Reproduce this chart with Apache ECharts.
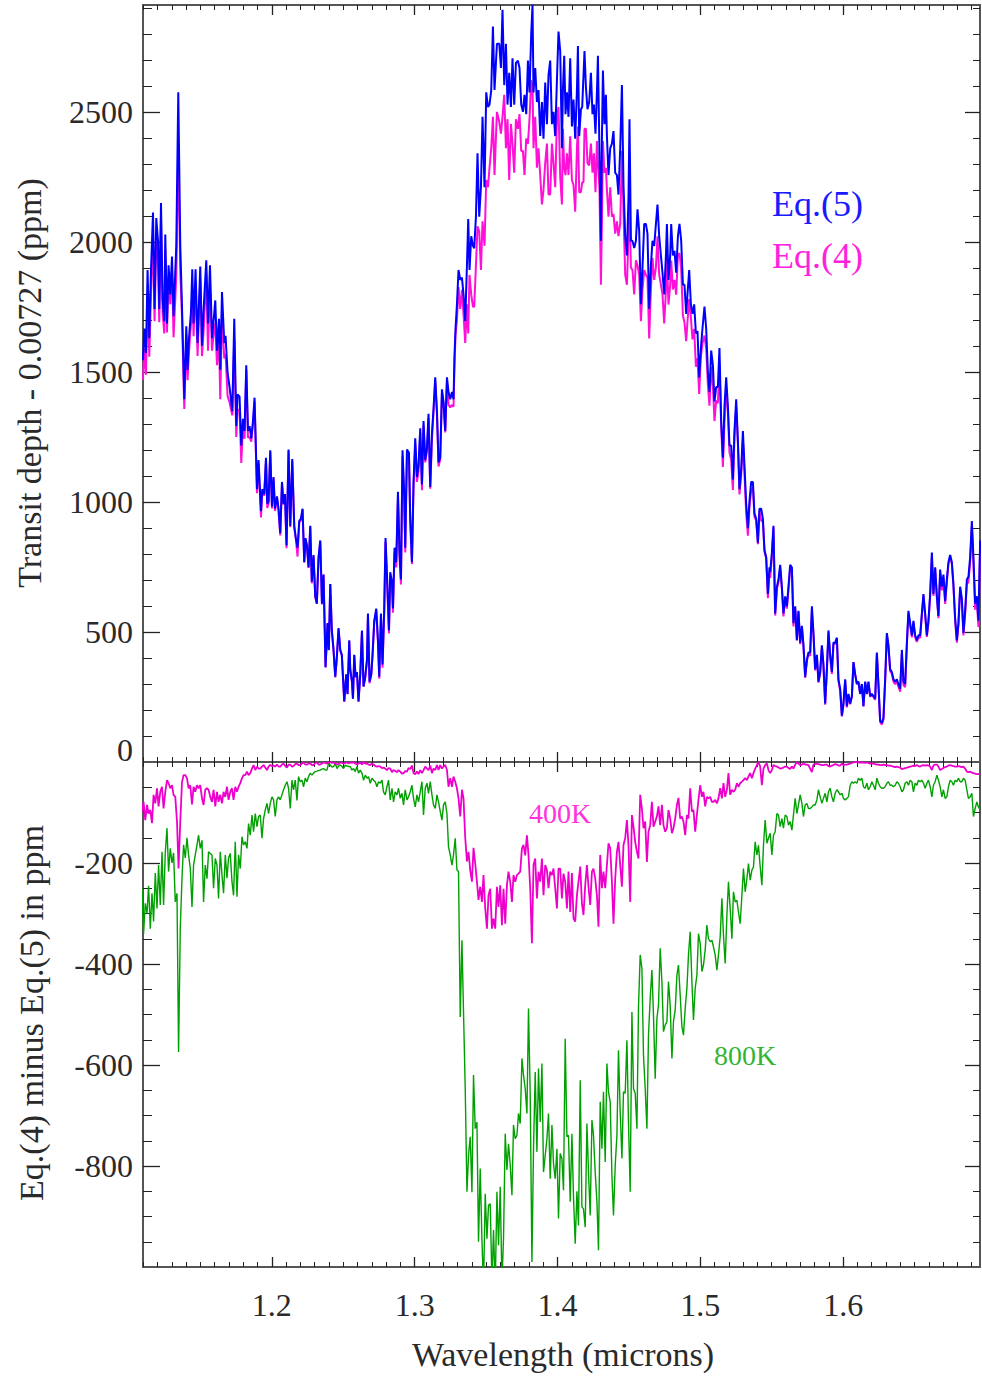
<!DOCTYPE html>
<html><head><meta charset="utf-8">
<script src="https://cdn.jsdelivr.net/npm/echarts@6/dist/echarts.min.js"></script>
<style>html,body{margin:0;padding:0;background:#fff}#c{width:982px;height:1377px}</style>
</head><body><div id="c"></div>
<script>
// ---------- DATA ----------
// Top panel: wavelength (microns) shared by Eq.(5) and Eq.(4)
const wlTop = [
1.1098,1.1107,1.1119,1.1130,1.1142,1.1154,1.1168,1.1179,1.1191,1.1203,1.1212,1.1224,1.1235,1.1247,1.1254,1.1266,1.1277,1.1289,1.1301,1.1312,
1.1331,1.1345,1.1359,1.1371,1.1387,1.1401,1.1410,1.1420,1.1434,1.1443,1.1452,1.1466,1.1480,1.1499,1.1511,1.1522,1.1541,1.1553,1.1567,1.1581,
1.1592,1.1604,1.1616,1.1630,1.1639,1.1651,1.1667,1.1676,1.1690,1.1704,1.1723,1.1737,1.1751,1.1760,1.1774,1.1786,1.1798,1.1809,1.1821,1.1833,
1.1844,1.1856,1.1868,1.1879,1.1896,1.1907,1.1924,1.1933,1.1947,1.1959,1.1968,1.1977,1.1989,1.2001,1.2012,1.2022,1.2036,1.2047,1.2059,1.2071,
1.2082,1.2092,1.2103,1.2117,1.2129,1.2143,1.2157,1.2168,1.2180,1.2192,1.2204,1.2215,1.2227,1.2236,1.2246,1.2257,1.2269,1.2280,1.2292,1.2304,
1.2315,1.2327,1.2339,1.2351,1.2362,1.2376,1.2390,1.2399,1.2409,1.2420,1.2432,1.2444,1.2455,1.2467,1.2479,1.2490,1.2507,1.2521,1.2530,1.2542,
1.2549,1.2561,1.2568,1.2577,1.2586,1.2596,1.2607,1.2619,1.2631,1.2642,1.2654,1.2666,1.2673,1.2684,1.2696,1.2705,1.2717,1.2731,1.2743,1.2752,
1.2764,1.2775,1.2787,1.2796,1.2808,1.2820,1.2829,1.2841,1.2848,1.2859,1.2871,1.2883,1.2894,1.2904,1.2915,1.2927,1.2934,1.2946,1.2960,1.2969,
1.2981,1.2992,1.3004,1.3016,1.3027,1.3039,1.3051,1.3062,1.3074,1.3086,1.3097,1.3109,1.3121,1.3132,1.3144,1.3156,1.3167,1.3179,1.3191,1.3202,
1.3214,1.3226,1.3237,1.3249,1.3261,1.3272,1.3279,1.3286,1.3296,1.3307,1.3319,1.3331,1.3342,1.3354,1.3366,1.3375,1.3384,1.3396,1.3408,1.3417,
1.3429,1.3440,1.3452,1.3464,1.3475,1.3489,1.3501,1.3513,1.3524,1.3536,1.3548,1.3559,1.3576,1.3592,1.3604,1.3615,1.3627,1.3639,1.3650,1.3662,
1.3674,1.3685,1.3697,1.3709,1.3723,1.3734,1.3746,1.3758,1.3769,1.3781,1.3793,1.3804,1.3816,1.3825,1.3832,1.3844,1.3856,1.3867,1.3879,1.3891,
1.3902,1.3914,1.3926,1.3937,1.3949,1.3961,1.3972,1.3984,1.3996,1.4007,1.4019,
1.4031,1.4038,1.4047,1.4056,1.4066,1.4077,1.4089,1.4101,1.4112,1.4124,1.4136,1.4143,1.4152,1.4164,1.4173,1.4182,1.4189,1.4199,1.4210,1.4222,
1.4234,1.4245,1.4255,1.4266,1.4276,1.4283,1.4294,1.4304,1.4311,1.4318,1.4329,1.4339,1.4346,1.4357,1.4369,1.4381,1.4392,1.4404,1.4416,1.4427,
1.4439,1.4451,1.4462,1.4474,1.4486,1.4497,1.4504,1.4514,1.4525,1.4537,1.4549,1.4560,1.4572,1.4584,1.4595,1.4607,1.4619,1.4630,1.4642,1.4654,
1.4665,1.4677,1.4689,1.4700,1.4712,1.4724,1.4735,1.4747,1.4759,1.4766,1.4777,1.4789,1.4796,1.4808,1.4819,1.4831,1.4843,1.4854,1.4866,1.4878,
1.4889,1.4901,1.4910,1.4922,1.4934,1.4945,1.4957,1.4969,1.4980,1.4992,1.5004,1.5015,1.5029,1.5041,1.5053,1.5064,1.5076,1.5088,1.5099,1.5111,
1.5123,1.5134,1.5146,1.5158,1.5169,1.5181,1.5193,1.5204,1.5216,1.5228,1.5239,1.5251,1.5263,1.5274,1.5286,1.5298,1.5309,1.5321,1.5333,1.5344,
1.5356,1.5368,1.5379,1.5391,1.5403,1.5414,1.5426,1.5438,1.5449,1.5461,1.5473,1.5484,
1.5489,1.5501,1.5512,1.5524,1.5536,1.5547,1.5559,1.5571,1.5582,1.5594,1.5606,1.5617,1.5629,1.5641,1.5652,1.5664,1.5676,1.5687,1.5699,1.5711,
1.5722,1.5734,1.5746,1.5757,1.5769,1.5781,1.5792,1.5804,1.5816,1.5827,1.5839,1.5851,1.5862,1.5874,1.5886,1.5897,1.5909,1.5921,1.5932,1.5944,
1.5956,1.5967,1.5979,1.5991,1.6002,1.6014,1.6026,1.6037,1.6049,1.6061,1.6072,1.6084,1.6096,1.6107,1.6119,1.6131,1.6142,1.6154,1.6166,1.6177,
1.6189,1.6201,1.6212,1.6224,1.6236,1.6247,1.6259,1.6271,1.6282,1.6294,1.6306,1.6317,1.6329,1.6341,1.6352,1.6364,1.6376,1.6387,1.6399,1.6411,
1.6422,1.6434,1.6446,1.6457,1.6469,1.6481,1.6492,1.6504,1.6516,1.6527,1.6539,1.6551,1.6562,1.6574,1.6586,1.6597,1.6609,1.6621,1.6632,1.6644,
1.6656,1.6667,1.6679,1.6691,1.6702,1.6714,1.6726,1.6737,1.6749,1.6761,1.6772,1.6784,1.6796,1.6807,1.6819,1.6831,1.6842,1.6854,1.6866,1.6877,
1.6889,1.6901,1.6912,1.6924,1.6936,1.6947,1.6959
];
// Transit depth - 0.00727 (ppm), Eq.(5)
const eq5 = [
1545,1667,1573,1892,1630,1892,2113,1742,2092,2004,1742,2150,1779,1695,2028,1686,1910,1798,1944,1714,
1985,2575,1985,1751,1395,1676,1508,1630,1732,1895,1686,1895,1611,1905,1601,1738,1929,1686,1910,1630,
1695,1775,1582,1704,1508,1807,1611,1639,1498,1442,1348,1704,1292,1414,1405,1217,1320,1273,1526,1273,
1292,1245,1311,1401,1049,1161,964,1049,1030,1170,993,1002,1199,983,1096,974,1021,974,880,1077,
993,1030,833,1202,908,1165,908,861,824,927,936,974,768,861,833,749,908,693,796,637,
609,787,852,609,721,365,534,431,684,506,431,328,403,515,431,412,234,337,262,468,
356,309,243,412,328,346,234,337,506,290,328,393,571,309,337,412,543,590,468,328,
571,375,590,861,693,506,730,693,590,824,768,1039,805,702,1199,1030,824,1202,1189,936,
768,1077,1245,1096,1142,1283,1067,1311,1161,1208,1339,1058,1264,1358,1479,1348,1152,1170,1433,1386,
1273,1479,1423,1395,1423,1395,1564,1667,1760,1892,1854,1863,1798,1695,1910,2088,1892,2022,1985,1976,
2097,2341,2097,2210,2481,2210,2575,2519,2528,2584,2828,2584,2762,2762,2669,2893,2603,2762,2528,2650,
2519,2706,2528,2688,2697,2669,2528,2500,2566,2491,2697,2575,2800,2912,2575,2669,2538,2584,2407,2538,
2397,2613,2453,2641,2697,2453,2500,2407,2622,2809,2734,
2360,2584,2716,2491,2575,2481,2706,2444,2547,2397,2584,2753,2407,2510,2519,2641,2734,2594,2510,2538,
2650,2491,2528,2416,2575,2716,2341,2004,2397,2659,2453,2566,2407,2257,2360,2378,2426,2266,2257,2182,
2360,2603,2219,2022,1948,2172,2472,2004,2004,1976,2004,2125,2041,1760,1901,2069,2069,2032,1742,1910,
2004,1985,2069,2144,2022,1948,1882,1798,1948,2069,1854,1948,2069,1948,1966,1882,2022,2069,2004,1835,
1835,1723,1798,1892,1760,1723,1760,1648,1657,1479,1592,1667,1751,1667,1498,1423,1582,1526,1386,1442,
1442,1592,1311,1170,1367,1479,1367,1217,1217,1086,1273,1395,1236,1049,1124,1273,1142,993,899,1002,
1077,1077,955,936,843,974,974,936,815,787,646,749,
730,805,908,571,674,702,758,674,571,637,599,674,758,749,534,599,468,581,459,524,
449,328,393,421,421,599,496,356,412,309,346,449,375,225,356,506,412,346,459,459,
478,318,281,178,225,318,215,262,225,253,384,337,300,309,262,300,215,309,262,309,
253,262,253,243,421,300,159,150,169,318,496,449,356,346,318,309,318,300,281,431,
309,300,459,581,534,487,543,487,468,487,487,571,646,571,487,543,646,805,646,749,
637,562,740,674,721,618,702,768,796,768,684,552,468,534,674,627,496,581,702,712,
787,927,787,609,637,543,852
];
// Transit depth - 0.00727 (ppm), Eq.(4)
const eq4 = [
1470,1588,1489,1807,1558,1797,2023,1695,2000,1916,1691,2091,1730,1648,1969,1652,1868,1760,1898,1633,
1867,2360,1885,1711,1358,1644,1468,1578,1686,1811,1637,1836,1561,1859,1561,1653,1877,1582,1841,1582,
1640,1687,1526,1625,1395,1725,1552,1570,1408,1383,1333,1629,1250,1355,1355,1150,1294,1243,1507,1247,
1250,1232,1301,1385,1034,1148,940,1040,1024,1159,977,993,1193,975,1089,965,1016,965,871,1072,
990,1022,822,1197,903,1156,900,857,790,921,930,971,767,856,828,746,905,687,790,635,
608,782,847,606,720,363,531,430,684,504,430,325,398,511,430,410,231,336,261,465,
355,307,243,410,325,341,231,336,501,290,325,390,566,303,334,409,538,581,460,320,
562,363,579,848,677,494,717,673,574,806,748,1023,786,683,1176,1008,806,1183,1177,922,
761,1055,1221,1077,1118,1267,1045,1295,1152,1195,1323,1051,1242,1345,1463,1342,1136,1164,1420,1377,
1267,1463,1374,1363,1374,1366,1530,1640,1700,1826,1742,1816,1723,1611,1760,1648,1873,1798,1751,1751,
1910,2060,2041,1892,2079,1985,2238,2210,2285,2360,2481,2257,2500,2463,2416,2481,2566,2360,2472,2238,
2453,2378,2266,2472,2435,2491,2350,2350,2257,2397,2378,2472,2622,2600,2360,2481,2285,2360,2257,2144,
2201,2303,2378,2182,2182,2378,2303,2210,2472,2519,2250,
2144,2435,2285,2257,2341,2257,2406,2238,2219,2116,2360,2444,2191,2191,2229,2229,2435,2435,2303,2294,
2378,2266,2341,2191,2388,2303,2200,1835,2079,2388,2266,2285,2200,2097,2210,2097,2107,2032,2079,2022,
2069,2350,2116,1873,1835,2022,2172,1901,1892,1798,1929,1910,1873,1695,1816,1892,1873,1863,1629,1816,
1938,1854,1901,2022,1873,1835,1798,1686,1810,1938,1759,1836,1928,1817,1854,1797,1951,1957,1896,1717,
1690,1618,1693,1780,1708,1625,1665,1520,1552,1415,1560,1610,1640,1590,1450,1370,1520,1445,1311,1390,
1380,1525,1290,1135,1305,1435,1345,1190,1162,1046,1250,1365,1225,1029,1104,1237,1110,957,870,980,
1045,1055,942,930,838,965,928,923,809,784,630,727,
708,789,902,563,665,691,745,662,560,628,590,662,744,740,521,594,467,578,453,519,
446,323,388,415,408,579,491,352,409,305,341,443,369,220,351,498,403,339,453,455,
473,311,274,175,219,313,210,258,222,251,383,337,300,308,261,299,214,307,261,307,
250,259,250,239,416,295,153,144,164,312,490,442,349,338,309,299,309,290,270,417,
296,288,448,571,525,479,536,479,462,479,478,564,640,564,481,536,637,789,639,744,
632,553,724,660,709,608,693,761,790,761,676,543,459,526,665,617,487,568,683,692,
768,906,765,586,613,519,829
];
// Bottom panel: wavelength grid (microns) shared by 400K and 800K
const wlDiff = [
1.1079,1.1091,1.1102,1.1114,1.1126,1.1137,1.1149,1.1161,1.1172,1.1184,1.1196,1.1207,1.1219,1.1231,1.1242,1.1254,1.1266,1.1277,
1.1289,1.1301,1.1312,1.1324,1.1336,1.1347,1.1359,1.1371,1.1382,1.1394,1.1406,1.1417,1.1429,1.1441,1.1452,1.1464,1.1476,1.1487,
1.1499,1.1511,1.1522,1.1534,1.1546,1.1557,1.1569,1.1581,1.1592,1.1604,1.1616,1.1627,1.1639,1.1651,1.1662,1.1674,1.1686,1.1697,
1.1709,1.1721,1.1732,1.1744,1.1756,1.1767,1.1779,1.1791,1.1802,1.1814,1.1826,1.1837,1.1849,1.1861,1.1872,1.1884,1.1896,1.1907,
1.1919,1.1931,1.1942,1.1954,1.1966,1.1977,1.1989,1.2001,1.2012,1.2024,1.2036,1.2047,1.2059,1.2071,1.2082,1.2094,1.2106,1.2117,
1.2129,1.2141,1.2152,1.2164,1.2176,1.2187,1.2199,1.2211,1.2222,1.2234,1.2246,1.2257,1.2269,1.2281,1.2292,1.2304,1.2316,1.2327,
1.2339,1.2351,1.2362,1.2374,1.2386,1.2397,1.2409,1.2421,1.2432,1.2444,1.2456,1.2467,1.2479,1.2491,1.2502,1.2514,1.2526,1.2537,
1.2549,1.2561,1.2572,1.2584,1.2596,1.2607,1.2619,1.2631,1.2642,1.2654,1.2666,1.2677,1.2689,1.2701,1.2712,1.2724,1.2736,1.2747,
1.2759,1.2771,1.2782,1.2794,1.2806,1.2817,1.2829,1.2841,1.2852,1.2864,1.2876,1.2887,1.2899,1.2911,1.2922,1.2934,1.2946,1.2957,
1.2969,1.2981,1.2992,1.3004,1.3016,1.3027,1.3039,1.3051,1.3062,1.3074,1.3086,1.3097,1.3109,1.3121,1.3132,1.3144,1.3156,1.3167,
1.3179,1.3191,1.3202,1.3214,1.3226,1.3237,1.3249,1.3261,1.3272,1.3284,1.3296,1.3307,1.3319,1.3331,1.3342,1.3354,1.3366,1.3377,
1.3389,1.3401,1.3412,1.3424,1.3436,1.3447,1.3459,1.3471,1.3482,1.3494,1.3506,1.3517,1.3529,1.3541,1.3552,1.3564,1.3576,1.3587,
1.3599,1.3611,1.3622,1.3634,1.3646,1.3657,1.3669,1.3681,1.3692,1.3704,1.3716,1.3727,1.3739,1.3751,1.3762,1.3774,1.3786,1.3797,
1.3809,1.3821,1.3832,1.3844,1.3856,1.3867,1.3879,1.3891,1.3902,1.3914,1.3926,1.3937,1.3949,1.3961,1.3972,1.3984,1.3996,1.4007,
1.4019,1.4031,1.4042,1.4054,1.4066,1.4077,1.4089,1.4101,1.4112,1.4124,1.4136,1.4147,1.4159,1.4171,1.4182,1.4194,1.4206,1.4217,
1.4229,1.4241,1.4252,1.4264,1.4276,1.4287,1.4299,1.4311,1.4322,1.4334,1.4346,1.4357,1.4369,1.4381,1.4392,1.4404,1.4416,1.4427,
1.4439,1.4451,1.4462,1.4474,1.4486,1.4497,1.4509,1.4521,1.4532,1.4544,1.4556,1.4567,1.4579,1.4591,1.4602,1.4614,1.4626,1.4637,
1.4649,1.4661,1.4672,1.4684,1.4696,1.4707,1.4719,1.4731,1.4742,1.4754,1.4766,1.4777,1.4789,1.4801,1.4812,1.4824,1.4836,1.4847,
1.4859,1.4871,1.4882,1.4894,1.4906,1.4917,1.4929,1.4941,1.4952,1.4964,1.4976,1.4987,1.4999,1.5011,1.5022,1.5034,1.5046,1.5057,
1.5069,1.5081,1.5092,1.5104,1.5116,1.5127,1.5139,1.5151,1.5162,1.5174,1.5186,1.5197,1.5209,1.5221,1.5232,1.5244,1.5256,1.5267,
1.5279,1.5291,1.5302,1.5314,1.5326,1.5337,1.5349,1.5361,1.5372,1.5384,1.5396,1.5407,1.5419,1.5431,1.5442,1.5454,1.5466,1.5477,
1.5489,1.5501,1.5512,1.5524,1.5536,1.5547,1.5559,1.5571,1.5582,1.5594,1.5606,1.5617,1.5629,1.5641,1.5652,1.5664,1.5676,1.5687,
1.5699,1.5711,1.5722,1.5734,1.5746,1.5757,1.5769,1.5781,1.5792,1.5804,1.5816,1.5827,1.5839,1.5851,1.5862,1.5874,1.5886,1.5897,
1.5909,1.5921,1.5932,1.5944,1.5956,1.5967,1.5979,1.5991,1.6002,1.6014,1.6026,1.6037,1.6049,1.6061,1.6072,1.6084,1.6096,1.6107,
1.6119,1.6131,1.6142,1.6154,1.6166,1.6177,1.6189,1.6201,1.6212,1.6224,1.6236,1.6247,1.6259,1.6271,1.6282,1.6294,1.6306,1.6317,
1.6329,1.6341,1.6352,1.6364,1.6376,1.6387,1.6399,1.6411,1.6422,1.6434,1.6446,1.6457,1.6469,1.6481,1.6492,1.6504,1.6516,1.6527,
1.6539,1.6551,1.6562,1.6574,1.6586,1.6597,1.6609,1.6621,1.6632,1.6644,1.6656,1.6667,1.6679,1.6691,1.6702,1.6714,1.6726,1.6737,
1.6749,1.6761,1.6772,1.6784,1.6796,1.6807,1.6819,1.6831,1.6842,1.6854,1.6866,1.6877,1.6889,1.6901,1.6912,1.6924,1.6936,1.6947,
1.6959
];
// Eq.(4) minus Eq.(5) in ppm, 400K
const diff400K = [
-108,-95,-79,-115,-85,-102,-95,-121,-65,-82,-52,-88,-59,-49,-92,-59,-36,-42,-52,-46,
-65,-69,-118,-211,-118,-40,-26,-26,-32,-52,-46,-84,-49,-59,-46,-52,-46,-72,-85,-55,
-52,-55,-69,-79,-55,-88,-59,-79,-65,-82,-59,-69,-49,-75,-59,-52,-75,-49,-59,-49,
-42,-32,-26,-26,-19,-26,-22,-13,-6,-16,-9,-13,-13,-9,-6,-11,-16,-9,-6,-8,
-7,-9,-5,-9,-9,-5,-3,-8,-11,-5,-5,-9,-8,-4,-3,-6,-6,-3,-1,-5,
-5,-3,-3,-6,-6,-2,-1,-5,-5,-3,-1,-2,-3,-1,0,-2,-1,-3,-5,-4,
-1,-2,-3,-2,-1,-3,
-1,-2,0,-3,-5,-3,-1,-5,0,-3,-3,-5,-6,-3,-5,-8,-9,-8,-9,-12,
-11,-13,-16,-12,-13,-20,-16,-18,-20,-16,-19,-23,-22,-18,-19,-12,-14,-7,-22,-24,
-19,-24,-16,-22,-16,-9,-13,-16,-7,-22,-13,-16,-6,-16,-6,-13,-9,-6,-16,-49,
-32,-49,-29,-39,-52,-72,-108,-55,-72,-150,-197,-178,-214,-237,-170,-201,-237,-273,-247,-277,
-224,-290,-330,-264,-251,-330,-310,-330,-247,-287,-244,-323,-251,-320,-244,-217,-237,-277,-224,-237,
-224,-221,-217,-171,-164,-185,-145,-184,-250,-359,-204,-191,-270,-217,-237,-191,-264,-204,-214,-250,
-217,-224,-211,-250,-290,-211,
-211,-270,-221,-237,-290,-217,-297,-220,-310,-316,-264,-237,-207,-280,-303,-244,-204,-247,-283,-217,
-211,-231,-264,-326,-184,-250,-217,-250,-204,-161,-171,-237,-320,-231,-178,-158,-204,-247,-164,-151,
-115,-164,-277,-105,-128,-158,-178,-191,-65,-92,-131,-118,-198,-138,-125,-79,-128,-118,-108,-88,
-125,-85,-125,-138,-131,-95,-112,-141,-131,-112,-85,-71,-112,-108,-118,-145,-105,-112,-52,-98,
-95,-138,-105,-75,-46,-69,-59,-88,-69,-72,-69,-79,-79,-75,-82,-72,-52,-72,-42,-69,
-55,-22,-65,-55,-59,-55,-42,-49,-42,-39,-36,-32,-36,-29,-22,-32,-22,-13,-6,0,
-9,-46,-13,-6,-3,-16,
-22,-16,-6,-8,-9,-11,-13,-12,-11,-9,-9,-12,-14,-9,-13,-5,-1,-3,-6,-5,
-3,-5,-5,-6,-13,-20,-5,-4,-3,-4,-5,-6,-6,-5,-5,-8,-9,-7,-6,-4,
-5,-7,-7,-3,-6,-5,-5,-4,-3,-2,-1,0,0,-1,-1,-1,-1,-2,-1,-2,
-3,-3,-3,-4,-5,-5,-6,-6,-5,-6,-6,-7,-7,-8,-9,-10,-9,-10,-11,-14,
-13,-12,-11,-10,-9,-8,-7,-8,-6,-8,-9,-7,-6,-7,-6,-7,-9,-16,-7,-5,
-5,-9,-16,-14,-12,-10,-9,-7,-6,-7,-8,-9,-9,-8,-9,-10,-9,-13,-19,-20,
-19,-21,-22,-23,-24,-24,-23
];
// Eq.(4) minus Eq.(5) in ppm, 800K
const diff800K = [
-260,-250,-340,-280,-300,-245,-330,-260,-316,-220,-290,-204,-283,-178,-283,-180,-131,-217,-171,-200,
-180,-277,-260,-574,-330,-230,-164,-190,-150,-184,-210,-287,-204,-184,-164,-145,-171,-155,-277,-204,
-231,-178,-181,-184,-250,-191,-204,-270,-178,-224,-260,-184,-230,-190,-181,-237,-264,-158,-267,-184,
-211,-148,-164,-158,-171,-122,-145,-105,-138,-102,-128,-108,-105,-151,-112,-95,-82,-102,-82,-69,
-75,-108,-75,-69,-75,-65,-55,-46,-39,-52,-92,-36,-55,-36,-76,-29,-39,-36,-49,-32,
-39,-29,-22,-26,-22,-19,-18,-17,-16,-14,-13,-16,-16,-3,-6,-10,-9,-3,-13,-8,
-6,-9,-13,-6,-8,-9,
-9,-16,-13,-19,-9,-22,-16,-22,-36,-26,-32,-29,-42,-32,-36,-39,-49,-39,-42,-36,
-59,-65,-49,-36,-75,-52,-79,-59,-65,-52,-72,-62,-85,-55,-75,-69,-59,-46,-72,-89,
-65,-79,-59,-39,-105,-52,-42,-62,-39,-65,-85,-92,-65,-79,-98,-115,-85,-79,-102,-168,
-184,-204,-184,-151,-214,-217,-505,-353,-495,-647,-851,-779,-742,-852,-620,-726,-713,-950,-805,-947,
-1040,-855,-944,-878,-875,-1030,-927,-1040,-851,-957,-841,-1030,-944,-736,-808,-756,-798,-858,-719,-746,
-739,-696,-716,-587,-620,-647,-696,-488,-660,-990,-766,-614,-772,-607,-713,-597,-812,-779,-746,-696,
-825,-719,-795,-825,-766,-904,
-775,-785,-848,-548,-742,-739,-871,-736,-861,-954,-850,-918,-630,-881,-885,-921,-716,-812,-898,-709,
-739,-812,-871,-967,-673,-766,-653,-792,-597,-653,-673,-819,-898,-799,-739,-571,-693,-785,-653,-656,
-551,-713,-851,-495,-647,-656,-726,-485,-382,-409,-581,-647,-726,-541,-468,-412,-501,-627,-508,-482,
-369,-435,-534,-521,-514,-435,-482,-587,-514,-491,-422,-402,-462,-524,-541,-488,-448,-382,-336,-435,
-511,-448,-422,-340,-359,-415,-402,-372,-323,-350,-356,-353,-366,-382,-412,-382,-346,-270,-343,-399,
-303,-237,-290,-350,-257,-277,-274,-297,-320,-264,-211,-257,-231,-201,-234,-214,-208,-158,-184,-165,
-207,-244,-165,-115,-161,-151,
-141,-184,-145,-138,-102,-105,-128,-112,-131,-105,-108,-125,-118,-135,-105,-72,-102,-85,-65,-82,
-108,-85,-82,-92,-92,-89,-85,-85,-75,-55,-69,-82,-72,-62,-79,-59,-52,-69,-79,-62,
-55,-59,-65,-62,-72,-75,-72,-69,-46,-39,-42,-39,-42,-32,-36,-32,-49,-52,-42,-55,
-49,-39,-46,-55,-32,-42,-49,-52,-52,-49,-42,-39,-46,-46,-49,-46,-39,-42,-49,-59,
-55,-42,-39,-46,-36,-39,-59,-42,-46,-36,-39,-36,-42,-52,-42,-36,-49,-69,-46,-39,
-26,-36,-49,-69,-55,-72,-69,-49,-36,-39,-46,-36,-39,-32,-39,-39,-32,-36,-55,-72,
-69,-62,-108,-92,-79,-89,-95
];
// Tick positions / labels
const xMajorTicks = [1.2, 1.3, 1.4, 1.5, 1.6];
const xMinorTicks = [1.11,1.12,1.13,1.14,1.15,1.16,1.17,1.18,1.19,1.21,1.22,1.23,1.24,1.25,1.26,1.27,1.28,1.29,
  1.31,1.32,1.33,1.34,1.35,1.36,1.37,1.38,1.39,1.41,1.42,1.43,1.44,1.45,1.46,1.47,1.48,1.49,
  1.51,1.52,1.53,1.54,1.55,1.56,1.57,1.58,1.59,1.61,1.62,1.63,1.64,1.65,1.66,1.67,1.68,1.69];
const topMajorTicks = [500, 1000, 1500, 2000, 2500];
const topLabels = [0, 500, 1000, 1500, 2000, 2500];
const topMinorTicks = [100,200,300,400,600,700,800,900,1100,1200,1300,1400,1600,1700,1800,1900,2100,2200,2300,2400,2600,2700,2800,2900];
const botMajorTicks = [-800, -600, -400, -200];
const botLabels = [-800, -600, -400, -200];
const botMinorTicks = [-950,-900,-850,-750,-700,-650,-550,-500,-450,-350,-300,-250,-150,-100,-50];

// ---------- CHART ----------
const XMIN = 1.1098, XMAX = 1.6958;
const FONT = "'Liberation Serif', 'Times New Roman', serif";
const AXIS_COLOR = '#555', TICK_COLOR = '#222', TEXT_COLOR = '#2a2a2a';
const TICK_FS = 32, TITLE_FS = 34;
const zip = (xs, ys) => { const n = Math.min(xs.length, ys.length); const o = []; for (let i = 0; i < n; i++) o.push([xs[i], ys[i]]); return o; };

function tick(len, values, w) { return {show: true, inside: true, length: len, customValues: values, lineStyle: {color: TICK_COLOR, width: w || 1}}; }
const lineOn = {show: true, onZero: false, lineStyle: {color: AXIS_COLOR, width: 2}};
const lineOff = {show: false, onZero: false};

function makeX(grid, withLabels) {
  const b = {type: 'value', gridIndex: grid, min: XMIN, max: XMAX, splitLine: {show: false}, axisLabel: {show: false}};
  const lab = {show: true, customValues: xMajorTicks, margin: 22, fontFamily: FONT, fontSize: TICK_FS, color: TEXT_COLOR,
               formatter: v => Number(v).toFixed(1)};
  return [
    Object.assign({}, b, {position: 'bottom', axisLine: lineOn, axisTick: tick(10, xMajorTicks, 1.3), axisLabel: withLabels ? lab : {show: false}}),
    Object.assign({}, b, {position: 'bottom', axisLine: lineOff, axisTick: tick(5, xMinorTicks)}),
    Object.assign({}, b, {position: 'top', axisLine: lineOn, axisTick: tick(10, xMajorTicks, 1.3)}),
    Object.assign({}, b, {position: 'top', axisLine: lineOff, axisTick: tick(5, xMinorTicks)})
  ];
}
function makeY(grid, min, max, major, minor, labels, fmt, rich) {
  const b = {type: 'value', gridIndex: grid, min: min, max: max, splitLine: {show: false}, axisLabel: {show: false}};
  const lab = {show: true, customValues: labels, margin: 10, fontFamily: FONT, fontSize: TICK_FS, color: TEXT_COLOR, formatter: fmt};
  if (rich) lab.rich = rich;
  return [
    Object.assign({}, b, {position: 'left', axisLine: lineOn, axisTick: tick(17, major, 1.3), axisLabel: lab}),
    Object.assign({}, b, {position: 'left', axisLine: lineOff, axisTick: tick(9, minor)}),
    Object.assign({}, b, {position: 'right', axisLine: lineOn, axisTick: tick(15, major, 1.3)}),
    Object.assign({}, b, {position: 'right', axisLine: lineOff, axisTick: tick(7, minor)})
  ];
}

const chart = echarts.init(document.getElementById('c'), null, {renderer: 'svg', width: 982, height: 1377});
const txt = (text, x, y, size, color, align, rot) => ({
  type: 'text', x: x, y: y, rotation: rot || 0, silent: true,
  style: {text: text, fontFamily: FONT, fontSize: size, fill: color, textAlign: align || 'left', align: align || 'left',
          textVerticalAlign: 'middle', verticalAlign: 'middle'}
});

chart.setOption({
  animation: false,
  backgroundColor: '#ffffff',
  grid: [
    {left: 143, top: 5, width: 837, height: 757},
    {left: 143, top: 762, width: 837, height: 505}
  ],
  xAxis: makeX(0, false).concat(makeX(1, true)),
  yAxis: makeY(0, 0, 2911, topMajorTicks, topMinorTicks, topLabels,
               v => (Number(v) === 0 ? '{z|0}' : String(v)),
               {z: {fontFamily: FONT, fontSize: TICK_FS, color: TEXT_COLOR, padding: [0, 0, 24, 0]}})
        .concat(makeY(1, -1000, 0, botMajorTicks, botMinorTicks, botLabels, v => String(v))),
  series: [
    {type: 'line', name: 'Eq.(4)', xAxisIndex: 0, yAxisIndex: 0, data: zip(wlTop, eq4), symbol: 'none', showSymbol: false,
     lineStyle: {color: '#ff10d8', width: 2}, itemStyle: {color: '#ff10d8'}, z: 2},
    {type: 'line', name: 'Eq.(5)', xAxisIndex: 0, yAxisIndex: 0, data: zip(wlTop, eq5), symbol: 'none', showSymbol: false,
     lineStyle: {color: '#0000ff', width: 2}, itemStyle: {color: '#0000ff'}, z: 3},
    {type: 'line', name: '800K', xAxisIndex: 4, yAxisIndex: 4, data: zip(wlDiff, diff800K), symbol: 'none', showSymbol: false,
     lineStyle: {color: '#00a000', width: 1.4}, itemStyle: {color: '#00a000'}, z: 2},
    {type: 'line', name: '400K', xAxisIndex: 4, yAxisIndex: 4, data: zip(wlDiff, diff400K), symbol: 'none', showSymbol: false,
     lineStyle: {color: '#ee00cc', width: 1.8}, itemStyle: {color: '#ee00cc'}, z: 3}
  ],
  graphic: [
    txt('Transit depth - 0.00727 (ppm)', 29, 383, TITLE_FS, '#2a2a2a', 'center', Math.PI / 2),
    txt('Eq.(4) minus Eq.(5) in ppm', 31, 1013, TITLE_FS, '#2a2a2a', 'center', Math.PI / 2),
    txt('Wavelength (microns)', 563, 1354, TITLE_FS, '#2a2a2a', 'center', 0),
    txt('Eq.(5)', 772, 204, 36, '#1a1aff', 'left', 0),
    txt('Eq.(4)', 772, 256, 36, '#ff22dd', 'left', 0),
    txt('400K', 529, 813, 28, '#ff33dd', 'left', 0),
    txt('800K', 714, 1055, 28, '#33b533', 'left', 0)
  ]
});
</script>
</body></html>
